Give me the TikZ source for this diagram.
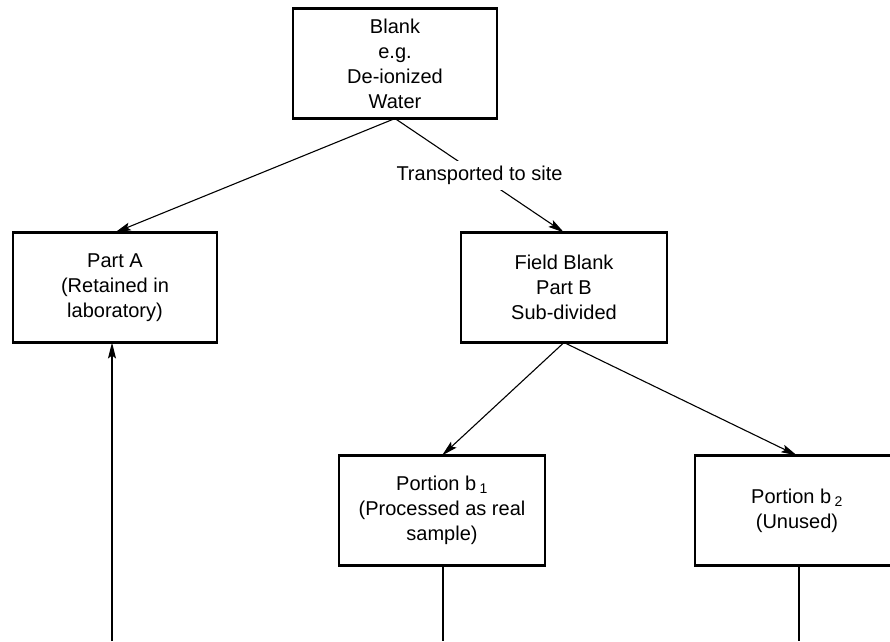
\documentclass[tikz,border=0pt]{standalone}
\usepackage{fontspec}
\setmainfont{Liberation Sans}
\usetikzlibrary{arrows.meta}
\begin{document}
\begin{tikzpicture}[x=1pt,y=-1pt,
  box/.style={draw, line width=2.6pt, align=center, minimum width=204pt,
    minimum height=110pt, inner sep=0pt, outer sep=0pt,
    font=\fontsize{20}{25}\selectfont},
  conn/.style={line width=1.1pt},
  arr/.style={conn, -{Stealth[length=16pt,width=8pt,inset=3pt]}},
  lbl/.style={fill=white, inner sep=5pt, font=\fontsize{20}{24}\selectfont}]
\useasboundingbox (0,0) rectangle (890,641);

% boxes
\node[box] (blank) at (395,63.5) {Blank\\e.g.\\De-ionized\\Water};
\node[box] (partA) at (115,287.5) {Part A\\(Retained in\\laboratory)};
\node[box, minimum width=206pt] (field) at (564,287.5) {Field Blank\\Part B\\Sub-divided};
\node[box, minimum width=206pt] (b1) at (442,510.5) {Portion b\,\textsubscript{1}\\(Processed as real\\sample)};
\node[box, minimum width=204pt] (b2) at (797,510.5) {Portion b\,\textsubscript{2}\\(Unused)};

% free ends at the lower edge
\coordinate (aEnd) at (112,641);
\coordinate (b1End) at (443,641);
\coordinate (b2End) at (799,641);

% connectors
\draw[arr] (blank.south) -- (partA.north);
\draw[arr] (blank.south) -- (field.north)
  node[lbl, pos=0.5] (trans) {Transported to site};
\draw[arr] (field.south) -- (b1.north);
\draw[arr] (field.south) -- (b2.north);
\draw[arr] (aEnd) -- (aEnd |- partA.south);
\draw[conn] (b1End |- b1.south) -- (b1End);
\draw[conn] (b2End |- b2.south) -- (b2End);
\end{tikzpicture}
\end{document}
